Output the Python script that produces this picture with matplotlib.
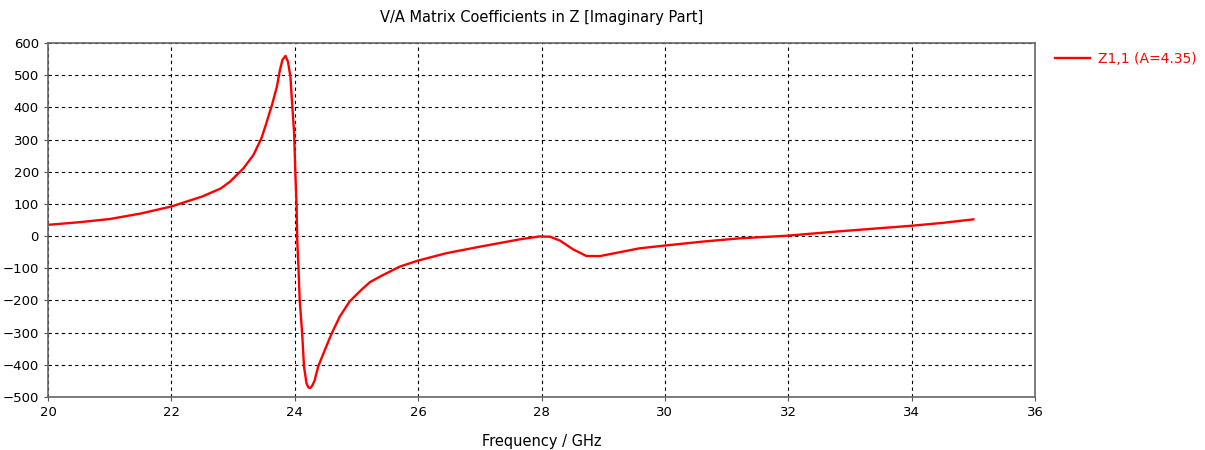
import matplotlib.pyplot as plt

# Z1,1 imaginary part vs frequency (GHz)
freq = [20.0, 20.5, 21.0, 21.5, 22.0, 22.5, 22.8, 22.95, 23.17, 23.33, 23.46, 23.54,
        23.63, 23.71, 23.76, 23.80, 23.85, 23.89, 23.93, 23.95, 23.99, 24.01,
        24.03, 24.04, 24.06, 24.08, 24.12, 24.15, 24.19, 24.22, 24.25, 24.28, 24.32,
        24.38, 24.49, 24.60, 24.73, 24.89, 25.08, 25.22, 25.38, 25.70, 26.0, 26.46,
        27.0, 27.65, 27.97, 28.14, 28.30, 28.51, 28.73, 28.95, 29.27, 29.59,
        29.97, 30.62, 31.21, 31.97, 32.84, 33.99, 34.5, 35.0]
z_imag = [35, 43, 53, 70, 92, 123, 148, 169, 211, 252, 304, 351,
          407, 464, 516, 547, 560, 542, 495, 433, 320, 195,
          92, -12, -95, -198, -302, -405, -457, -470, -472, -466, -450,
          -405, -353, -302, -250, -203, -167, -143, -126, -95, -76, -53,
          -33, -10, -1, -2, -14, -41, -62, -62, -50, -38,
          -30, -17, -7, 1, 15, 32, 41, 52]

fig = plt.figure(figsize=(12.05, 4.5), dpi=100)
ax = fig.add_axes([48 / 1205, 1 - 397 / 450, (1035 - 48) / 1205, (397 - 43) / 450])

ax.plot(freq, z_imag, color='#ff0000', linewidth=1.7, label='Z1,1 (A=4.35)')

ax.set_xlim(20, 36)
ax.set_ylim(-500, 600)
ax.set_xticks(range(20, 37, 2))
ax.set_yticks(range(-500, 601, 100))
ax.grid(True, color='black', linestyle=(0, (3, 3)), linewidth=0.8)
ax.tick_params(labelsize=9.5, length=3, color='#555555')
for s in ax.spines.values():
    s.set_color('#666666')
    s.set_linewidth(1.2)

ax.set_title('V/A Matrix Coefficients in Z [Imaginary Part]', fontsize=10.5, pad=15)
ax.set_xlabel('Frequency / GHz', fontsize=10.5, labelpad=11)

leg = ax.legend(loc='upper left', bbox_to_anchor=(1.008, 1.01), frameon=False,
                fontsize=10, handlelength=2.5, handletextpad=0.6)
for t in leg.get_texts():
    t.set_color('#ff0000')

fig.savefig('out.png', dpi=100)
